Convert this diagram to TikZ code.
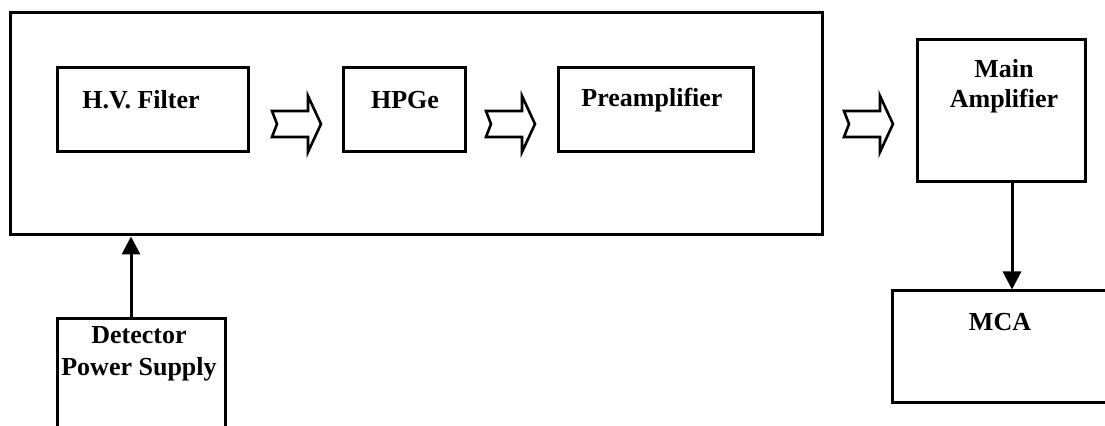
\documentclass[tikz,border=0pt]{standalone}
\usepackage{fontspec}
\setmainfont{Liberation Serif}
\usepackage{tikz}
\usetikzlibrary{arrows.meta, positioning, calc}

\begin{document}
\begin{tikzpicture}[
    x=0.5pt, y=-0.5pt,
    box/.style={draw, line width=1.5pt, inner sep=0pt},
    lbl/.style={font=\fontsize{13}{15}\selectfont\bfseries, align=center, inner sep=0pt},
    arr/.style={line width=1.5pt, -{Triangle[length=9pt, width=9pt]}},
    blockarrow/.pic={
        \draw[line width=1.3pt, line join=miter]
            (0,-13) -- (36,-13) -- (36,-28) -- (49,0) -- (36,28) -- (36,13) -- (0,13) -- (5,0) -- cycle;
    }
]
\useasboundingbox (0,0) rectangle (1105,426);
\clip (0,0) rectangle (1105,426);

% Detector housing
\node[box, minimum width=406pt, minimum height=111pt] (det) at (416,124) {};

\node[box, minimum width=95.5pt, minimum height=42pt] (hv) at (152.5,110) {};
\node[lbl] (hvtxt) at (141,100) {H.V. Filter};

\node[box, minimum width=61pt, minimum height=42pt] (hpge) at (404,110) {};
\node[lbl] (hpgetxt) at (405,100) {HPGe};

\node[box, minimum width=97.5pt, minimum height=42pt] (pre) at (655.5,110) {};
\node[lbl] (pretxt) at (652,100) {Preamplifier};

% Outside electronics
\node[box, minimum width=84pt, minimum height=71pt] (amp) at (1001,111) {};
\node[lbl] (amptxt) at (1004,86) {Main\\Amplifier};

\node[box, minimum width=110pt, minimum height=56pt] (mca) at (1002,347) {};
\node[lbl] (mcatxt) at (1000,322) {MCA};

\node[box, minimum width=84pt, minimum height=65pt] (dps) at (141,384) {};
\node[lbl, font=\fontsize{13}{16}\selectfont\bfseries] (dpstxt) at (139,354) {Detector\\Power Supply};

% Signal flow
\pic (a1) at (272,124) {blockarrow};
\pic (a2) at (486,124) {blockarrow};
\pic (a3) at (844,124) {blockarrow};

\draw[arr] ([xshift=-5pt]dps.north) -- ([xshift=-5pt]dps.north |- det.south);
\draw[arr] ([xshift=5.5pt]amp.south) -- ([xshift=5.5pt]amp.south |- mca.north);
\end{tikzpicture}
\end{document}
